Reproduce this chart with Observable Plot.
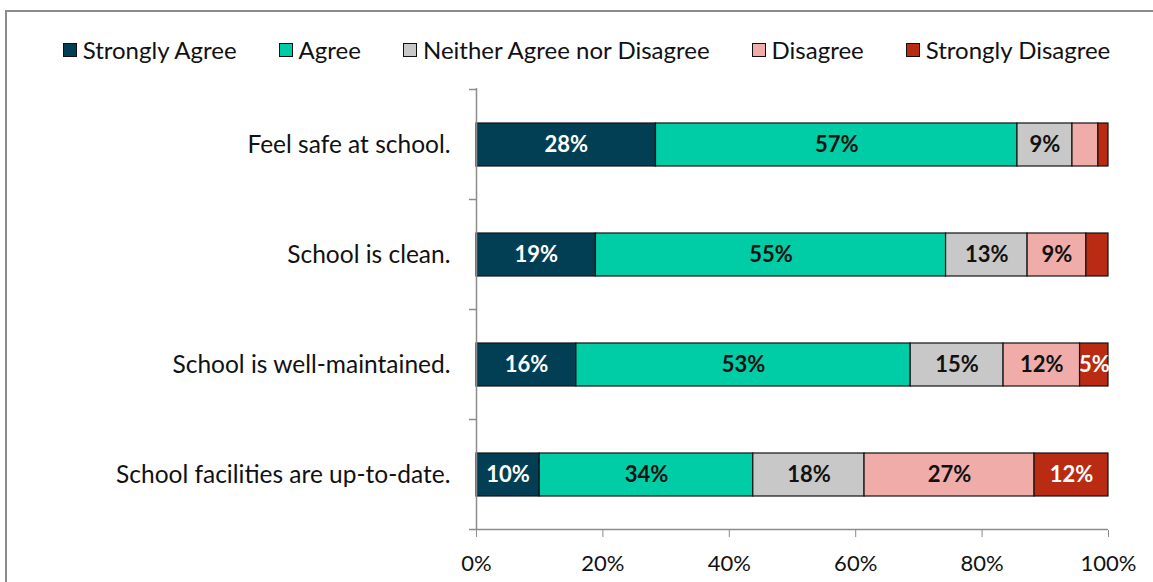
<!DOCTYPE html>
<html>
<head>
<meta charset="utf-8">
<script src="https://cdn.jsdelivr.net/npm/d3@7"></script>
<script src="https://cdn.jsdelivr.net/npm/@observablehq/plot@0.6"></script>
<style>
  html, body { margin: 0; padding: 0; background: #fff; overflow: hidden; }
  body { width: 1153px; height: 582px; position: relative; font-family: Lato, "Noto Sans", sans-serif; }
  #frame { position: absolute; left: 5px; top: 10px; width: 1300px; height: 800px; border: 2px solid #8c8c8c; box-sizing: border-box; }
  #legend { position: absolute; left: 0; top: 35px; width: 1153px; display: flex; justify-content: center; padding-left: 20px; box-sizing: border-box; font-size: 24px; color: #111; gap: 42px; line-height: 30px; }
  #legend .item { display: flex; align-items: center; gap: 6px; white-space: nowrap; }
  #legend .sw { width: 12px; height: 12px; border: 1.6px solid #111; display: inline-block; }
  #chart { position: absolute; left: 0; top: 0; }
</style>
</head>
<body>
<div id="frame"></div>
<div id="legend"></div>
<div id="chart"></div>
<script>
const categories = ["Feel safe at school.", "School is clean.", "School is well-maintained.", "School facilities are up-to-date."];
const series = ["Strongly Agree", "Agree", "Neither Agree nor Disagree", "Disagree", "Strongly Disagree"];
const colors = ["#023F55", "#00CCA6", "#C8C8C8", "#F0ACA8", "#B92B12"];
const labelColors = ["#fff", "#111", "#111", "#111", "#fff"];
const stronglyAgree = [28.4, 18.9, 15.8, 10.0];
const agree = [57.2, 55.4, 52.9, 33.8];
const neither = [8.7, 12.9, 14.7, 17.6];
const disagree = [4.1, 9.3, 12.1, 26.9];
const stronglyDisagree = [1.6, 3.5, 4.5, 11.7];
const xTicks = [0, 0.2, 0.4, 0.6, 0.8, 1];

const seriesValues = [stronglyAgree, agree, neither, disagree, stronglyDisagree];
const data = [];
categories.forEach((c, i) => {
  series.forEach((s, j) => {
    data.push({category: c, series: s, value: seriesValues[j][i], labelColor: labelColors[j]});
  });
});

// legend
const legend = document.getElementById("legend");
series.forEach((s, j) => {
  const item = document.createElement("div");
  item.className = "item";
  const sw = document.createElement("span");
  sw.className = "sw";
  sw.style.background = colors[j];
  const t = document.createElement("span");
  t.textContent = s;
  item.appendChild(sw);
  item.appendChild(t);
  legend.appendChild(item);
});

const plot = Plot.plot({
  width: 1153,
  height: 582,
  marginTop: 88,
  marginBottom: 52,
  marginLeft: 476,
  marginRight: 45,
  style: {fontFamily: "Lato, 'Noto Sans', sans-serif", fontSize: "22px", color: "#111", background: "transparent"},
  x: {domain: [0, 1], ticks: xTicks, tickFormat: d3.format(".0%"), label: null},
  y: {domain: categories, paddingInner: 0.61, paddingOuter: 0.305, label: null},
  color: {domain: series, range: colors},
  marks: [
    Plot.barX(data, Plot.stackX({x: "value", y: "category", fill: "series", z: "series", offset: "normalize", stroke: "#111", strokeWidth: 1.2})),
    Plot.text(data, Plot.stackX({
      x: "value", y: "category", z: "series", offset: "normalize",
      text: d => Math.round(d.value) >= 5 ? Math.round(d.value) + "%" : "",
      fill: d => d.labelColor,
      fontWeight: "bold", fontSize: 22
    })),
    Plot.ruleX([0], {stroke: "#8c8c8c", strokeWidth: 1.5}),
    Plot.axisX({ticks: xTicks, tickFormat: d3.format(".0%"), tickSize: 7, tickPadding: 18, stroke: "#8c8c8c", fill: "#111", fontSize: 22, label: null}),
    Plot.axisY({tickSize: 0, tickPadding: 26, fill: "#111", fontSize: 24.5, label: null})
  ]
});
document.getElementById("chart").appendChild(plot);

// x-axis baseline and category-boundary ticks, derived from the scales
const sx = plot.scale("x");
const sy = plot.scale("y");
const svg = d3.select(plot);
const x0 = sx.apply(0), x1 = sx.apply(1);
const gap = (sy.step - sy.bandwidth) / 2;
const boundaries = categories.map(c => sy.apply(c) - gap);
boundaries.push(sy.apply(categories[categories.length - 1]) + sy.bandwidth + gap);
const yBottom = boundaries[boundaries.length - 1];
svg.append("line").attr("x1", x0).attr("x2", x1).attr("y1", yBottom).attr("y2", yBottom)
  .attr("stroke", "#8c8c8c").attr("stroke-width", 1.5);
svg.append("g").selectAll("line").data(boundaries).join("line")
  .attr("x1", x0 - 7).attr("x2", x0).attr("y1", d => d).attr("y2", d => d)
  .attr("stroke", "#8c8c8c").attr("stroke-width", 1.5);
</script>
</body>
</html>
